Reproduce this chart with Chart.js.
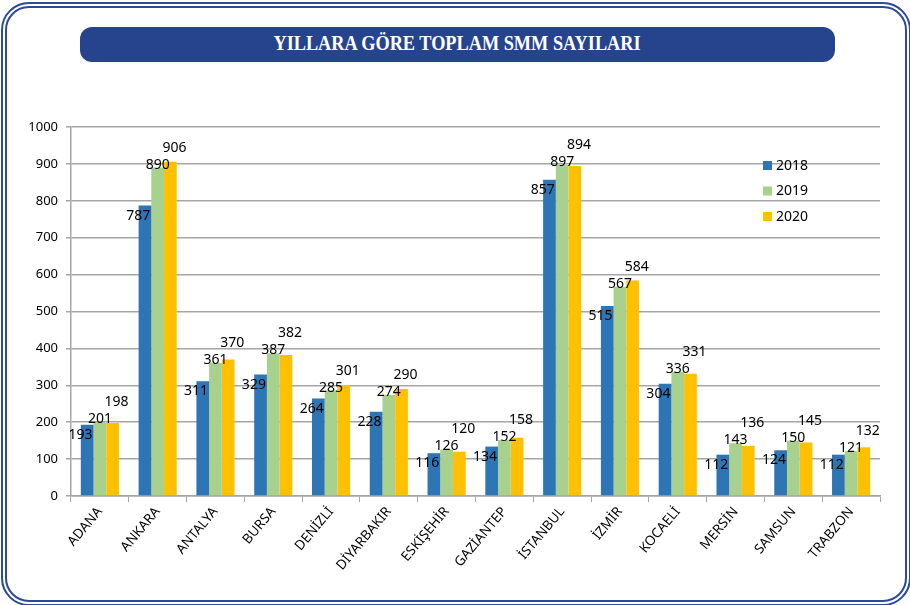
<!DOCTYPE html>
<html>
<head>
<meta charset="utf-8">
<script src="https://cdn.jsdelivr.net/npm/chart.js@4.4.1/dist/chart.umd.min.js"></script>
<style>
  html, body { margin: 0; padding: 0; background: #fff; }
  #wrap { position: relative; width: 910px; height: 605px; overflow: hidden; }
  #frame {
    position: absolute; left: 1px; top: 2px; width: 898px; height: 592px;
    border: 6px double #2b4a9a; border-radius: 28px;
  }
  #title {
    position: absolute; left: 80px; top: 27px; width: 755px; height: 35px;
    background: #26448e; border-radius: 12px; color: #fff;
    text-align: center; line-height: 36px;
  }
  #title span {
    display: inline-block; transform: scaleX(0.87);
    font: bold 21px "Liberation Serif", "DejaVu Serif", serif;
  }
  canvas { position: absolute; left: 0; top: 0; }
</style>
</head>
<body>
<div id="wrap">
  <div id="frame"></div>
  <div id="title"><span>YILLARA GÖRE TOPLAM SMM SAYILARI</span></div>
  <canvas id="myChart" width="910" height="605"></canvas>
</div>
<script>
"use strict";
const cities = ["ADANA", "ANKARA", "ANTALYA", "BURSA", "DENİZLİ", "DİYARBAKIR", "ESKİŞEHİR",
  "GAZİANTEP", "İSTANBUL", "İZMİR", "KOCAELİ", "MERSİN", "SAMSUN", "TRABZON"];
const years = ["2018", "2019", "2020"];
const values2018 = [193, 787, 311, 329, 264, 228, 116, 134, 857, 515, 304, 112, 124, 112];
const values2019 = [201, 890, 361, 387, 285, 274, 126, 152, 897, 567, 336, 143, 150, 121];
const values2020 = [198, 906, 370, 382, 301, 290, 120, 158, 894, 584, 331, 136, 145, 132];
const colors = ["#2e75b6", "#a9d18e", "#ffc000"];

const fontFamily = '"Noto Sans", "Open Sans", sans-serif';
const labelFont = "14px " + fontFamily;

// value labels: 2018 left of its bar, 2019 above, 2020 above and a bit higher
const barLabels = {
  id: "barLabels",
  afterDatasetsDraw(chart) {
    const ctx = chart.ctx;
    ctx.save();
    ctx.font = labelFont;
    ctx.fillStyle = "#000";
    ctx.textBaseline = "middle";
    const m0 = chart.getDatasetMeta(0).data;
    const m1 = chart.getDatasetMeta(1).data;
    const m2 = chart.getDatasetMeta(2).data;
    const d = chart.data.datasets;
    m0.forEach((bar, i) => {
      const b1 = m1[i], b2 = m2[i];
      ctx.textAlign = "right";
      ctx.fillText(d[0].data[i], bar.x + bar.width / 2 - 1, bar.y + 10);
      ctx.textAlign = "center";
      const y1 = b1.y - 3;
      ctx.fillText(d[1].data[i], b1.x, y1);
      const y2 = Math.min(b2.y - 10, y1 - 17);
      ctx.fillText(d[2].data[i], b2.x + 4, y2);
    });
    ctx.restore();
  }
};

const sideLegend = {
  id: "sideLegend",
  afterDraw(chart) {
    const ctx = chart.ctx;
    ctx.save();
    ctx.font = labelFont;
    ctx.textBaseline = "middle";
    ctx.textAlign = "left";
    chart.data.datasets.forEach((ds, i) => {
      const y = 166 + i * 25.5;
      ctx.fillStyle = ds.backgroundColor;
      ctx.fillRect(763, y - 5, 9, 9);
      ctx.fillStyle = "#000";
      ctx.fillText(ds.label, 776, y);
    });
    ctx.restore();
  }
};

const ctx = document.querySelector("#myChart").getContext("2d");
const myChart = new Chart(ctx, {
  type: "bar",
  data: {
    labels: cities,
    datasets: [values2018, values2019, values2020].map((vals, i) => ({
      label: years[i],
      data: vals,
      backgroundColor: colors[i],
      borderWidth: 0,
      categoryPercentage: 0.66,
      barPercentage: 1.0
    }))
  },
  options: {
    responsive: false,
    animation: false,
    layout: { padding: { left: 0, top: 127, right: 30, bottom: 0 } },
    plugins: {
      legend: { display: false },
      tooltip: { enabled: false },
      title: { display: false }
    },
    scales: {
      x: {
        afterFit(scale) { scale.height = 109; },
        grid: {
          offset: true,
          drawOnChartArea: false,
          drawTicks: true,
          tickLength: 6,
          color: "#a6a6a6"
        },
        border: { color: "#a6a6a6", width: 1.5 },
        ticks: {
          autoSkip: false,
          minRotation: 50,
          maxRotation: 50,
          padding: 2,
          color: "#000",
          font: { family: fontFamily, size: 13.5 }
        }
      },
      y: {
        afterFit(scale) { scale.width = 71; },
        min: 0,
        max: 1000,
        ticks: {
          stepSize: 100,
          padding: 8,
          color: "#000",
          font: { family: fontFamily, size: 13 },
          callback: v => String(v)
        },
        grid: { color: "#a6a6a6", lineWidth: 1.5, tickLength: 5 },
        border: { color: "#a6a6a6", width: 1.5 }
      }
    }
  },
  plugins: [barLabels, sideLegend]
});
</script>
</body>
</html>
